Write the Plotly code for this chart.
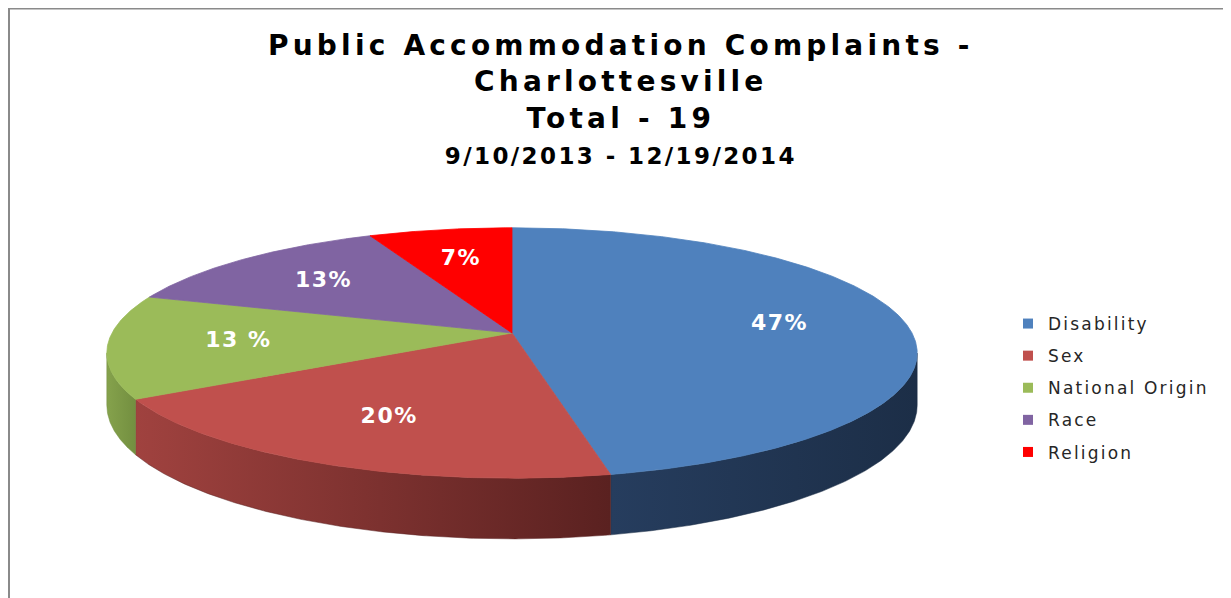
import numpy as np
import plotly.graph_objects as go

# ---- data ----
categories = ["Disability", "Sex", "National Origin", "Race", "Religion"]
counts = [7, 3, 2, 2, 1]
label_text = ["47%", "20%", "13 %", "13%", "7%"]
top_colors = ["#4F81BD", "#C0504D", "#9BBB59", "#8064A2", "#FF0000"]
side_colors = [("#263D5E", "#1C2E47"), ("#A0423F", "#5A2120"),
               ("#85A24C", "#738F40"), ("#604B7A", "#4A3A5E"), ("#C00000", "#900000")]
title_lines = ["Public Accommodation Complaints -", "Charlottesville", "Total - 19"]
date_line = "9/10/2013 - 12/19/2014"

# ---- 3D pie geometry (perspective projection of a tilted disc) ----
W, Hh = 1231, 598
OFF = 8  # page body margin
CX, CY = 512.0, 333.0
R = 400.0
SIN_A = 0.305
COS_A = np.sqrt(1 - SIN_A ** 2)
D = 2385.0
DEPTH = 51.0


def project(theta_deg, r=1.0, h=0.0):
    t = np.radians(theta_deg)
    X = r * R * np.sin(t)
    Z = r * R * np.cos(t)
    s = D / (D + Z * COS_A)
    return CX + s * X, CY - s * Z * SIN_A + s * h


total = float(sum(counts))
fracs = [c / total for c in counts]
bounds = np.concatenate([[0.0], np.cumsum(fracs) * 360.0])

# silhouette tangent angles
grid = np.linspace(0, 360, 7201)
gx, _ = project(grid)
th_right = grid[:3601][np.argmax(gx[:3601])]
th_left = grid[3600:][np.argmin(gx[3600:])]

fig = go.Figure()

# side walls
for i, cat in enumerate(categories):
    a1, a2 = bounds[i], bounds[i + 1]
    lo, hi = max(a1, th_right), min(a2, th_left)
    if lo >= hi:
        continue
    th = np.linspace(lo, hi, 200)
    xt, yt = project(th)
    xb, yb = project(th[::-1], h=DEPTH)
    xs = np.concatenate([xt, xb, xt[:1]])
    ys = np.concatenate([yt, yb, yt[:1]])
    c0, c1 = side_colors[i]
    fig.add_trace(go.Scatter(
        x=xs, y=ys, mode="lines", fill="toself",
        line=dict(width=0.5, color=c1),
        fillgradient=dict(type="horizontal",
                          colorscale=[[0, c0], [1, c1]],
                          start=float(xs.min()), stop=float(xs.max())),
        hoverinfo="skip", showlegend=False))

# top faces
for i, cat in enumerate(categories):
    a1, a2 = bounds[i], bounds[i + 1]
    th = np.linspace(a1, a2, max(int((a2 - a1) * 3), 10))
    xa, ya = project(th)
    xs = np.concatenate([[CX], xa, [CX]])
    ys = np.concatenate([[CY], ya, [CY]])
    fig.add_trace(go.Scatter(
        x=xs, y=ys, mode="lines", fill="toself",
        fillcolor=top_colors[i], line=dict(width=0.8, color=top_colors[i]),
        hoverinfo="skip", showlegend=False))

# data labels
mids = (bounds[:-1] + bounds[1:]) / 2
lx, ly = project(mids, r=0.68)
fig.add_trace(go.Scatter(
    x=lx, y=ly, mode="text",
    text=[f"<b><span style='letter-spacing:1.5px'>{t}</span></b>" for t in label_text],
    textfont=dict(family="DejaVu Sans", size=22, color="white"),
    hoverinfo="skip", showlegend=False))

# legend entries
for i, cat in enumerate(categories):
    fig.add_trace(go.Scatter(
        x=[None], y=[None], mode="markers",
        name=f"<span style='letter-spacing:2.2px'>{cat}</span>", legendgroup=cat,
        marker=dict(symbol="square", size=10, color=top_colors[i])))

title_html = "<b><span style='letter-spacing:4.2px'>" + "<br>".join(title_lines) + \
    f"<br><span style='font-size:23px;letter-spacing:2.4px'>{date_line}</span></span></b>"
fig.add_annotation(x=621, y=27, xref="x", yref="y", text=title_html,
                   showarrow=False, xanchor="center", yanchor="top",
                   align="center",
                   font=dict(family="DejaVu Sans", size=28, color="black"))

# frame edges (top and left)
fig.add_shape(type="line", xref="x", yref="y", x0=9, x1=W, y0=8.5, y1=8.5,
              line=dict(color="#8A8A8A", width=2))
fig.add_shape(type="line", xref="x", yref="y", x0=9, x1=9, y0=8, y1=Hh,
              line=dict(color="#8A8A8A", width=2))

fig.update_layout(
    width=W - OFF, height=Hh - OFF, autosize=False,
    margin=dict(l=0, r=0, t=0, b=0),
    paper_bgcolor="white", plot_bgcolor="white",
    xaxis=dict(range=[OFF, W], visible=False, fixedrange=True),
    yaxis=dict(range=[Hh, OFF], visible=False, fixedrange=True),
    showlegend=True,
    legend=dict(x=(1008 - OFF) / (W - OFF), y=1 - (310 - OFF - 4) / (Hh - OFF),
                xanchor="left", yanchor="top",
                traceorder="grouped", tracegroupgap=7,
                font=dict(family="DejaVu Sans", size=17, color="#262626"),
                bgcolor="rgba(0,0,0,0)"),
)

fig.write_html("out.html")
